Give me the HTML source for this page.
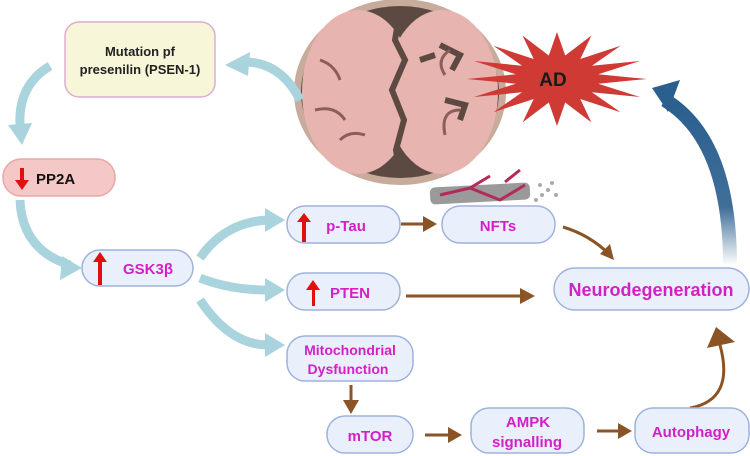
<!DOCTYPE html>
<html><head><meta charset="utf-8"><style>
body{margin:0;width:750px;height:456px;background:#fff;overflow:hidden;font-family:"Liberation Sans",sans-serif}
svg{display:block}
text{font-family:"Liberation Sans",sans-serif;font-weight:bold}
</style></head><body>
<svg width="750" height="456" viewBox="0 0 750 456" xmlns="http://www.w3.org/2000/svg">
<defs>
<linearGradient id="bg" x1="0" y1="1" x2="0" y2="0">
<stop offset="0" stop-color="#2a5f8e" stop-opacity="0"/>
<stop offset="0.35" stop-color="#2a5f8e" stop-opacity="0.9"/>
<stop offset="1" stop-color="#2a5f8e"/>
</linearGradient>
</defs>
<!-- brain -->
<ellipse cx="400" cy="92" rx="106" ry="93" fill="#c9ab9c"/>
<ellipse cx="400" cy="92" rx="99" ry="86" fill="#5c4a42"/>
<ellipse cx="358" cy="92" rx="56" ry="82" fill="#e8b4b0"/>
<ellipse cx="442" cy="92" rx="56" ry="82" fill="#e8b4b0"/>
<path d="M400 10 L395 40 L405 60 L392 90 L404 120 L396 150 L400 176" stroke="#5c4a42" stroke-width="6" fill="none"/>
<path d="M440 45 l20 10 l-8 15 M445 100 l20 5 l-5 15 M420 60 l15 -5" stroke="#5c4a42" stroke-width="6" fill="none"/>
<path d="M320 60 q15 5 20 20 M315 110 q20 -5 30 10 M450 50 q-15 10 -5 25 M460 110 q-20 0 -15 25 M340 140 q10 -10 25 -5" stroke="#8a5e5a" stroke-width="3" fill="none"/>
<!-- light blue arrows -->
<g fill="none" stroke="#a9d3dd" stroke-width="9">
<path d="M300 100 Q280 60 240 62"/>
<path d="M50 66 Q18 85 20 125"/>
<path d="M20 200 Q22 250 70 265"/>
<path d="M200 258 Q225 222 268 220"/>
<path d="M200 278 Q230 290 268 290"/>
<path d="M200 300 Q230 345 268 345"/>
</g>
<g fill="#a9d3dd">
<polygon points="225,65 250,52 248,76"/>
<polygon points="8,125 32,123 22,145"/>
<polygon points="82,268 62,256 60,280"/>
<polygon points="285,220 265,208 265,232"/>
<polygon points="285,290 265,278 265,302"/>
<polygon points="285,345 265,333 265,357"/>
</g>
<!-- star -->
<polygon id="star" fill="#d03a35"/>
<text x="553" y="86" font-size="19" fill="#1a1a1a" text-anchor="middle">AD</text>
<!-- blue arrow -->
<path d="M730 265 Q730 140 665 100" fill="none" stroke="url(#bg)" stroke-width="14"/>
<polygon points="652,88 680,80 668,112" fill="#2a5f8e"/>
<!-- NFT fibril -->
<rect x="430" y="185" width="100" height="17" rx="5" fill="#9a9a9a" transform="rotate(-3 480 193)"/>
<path d="M440 195 L470 188 L500 200 L525 185 M470 188 L490 176 M505 182 L520 170" stroke="#b42a5a" stroke-width="3" fill="none"/>
<g fill="#aaa"><circle cx="540" cy="185" r="2"/><circle cx="548" cy="190" r="2"/><circle cx="542" cy="195" r="2"/><circle cx="552" cy="183" r="2"/><circle cx="556" cy="195" r="2"/><circle cx="536" cy="200" r="2"/></g>
<!-- brown arrows -->
<g stroke="#8a5426" stroke-width="3" fill="none">
<path d="M401 224 L430 224"/>
<path d="M563 227 Q590 235 610 255"/>
<path d="M406 296 L520 296"/>
<path d="M351 385 L351 405"/>
<path d="M425 435 L455 435"/>
<path d="M597 431 L625 431"/>
<path d="M690 408 Q735 400 720 345"/>
</g>
<g fill="#8a5426">
<polygon points="437,224 423,216 423,232"/>
<polygon points="614,260 600,254 610,244"/>
<polygon points="535,296 520,288 520,304"/>
<polygon points="351,414 343,400 359,400"/>
<polygon points="462,435 448,427 448,443"/>
<polygon points="632,431 618,423 618,439"/>
<polygon points="716,327 707,348 735,342"/>
</g>
<!-- boxes -->
<rect x="65" y="22" width="150" height="75" rx="14" fill="#f8f6d8" stroke="#deaccf" stroke-width="1.5"/>
<text x="140" y="56" font-size="13" text-anchor="middle" fill="#222">Mutation pf</text>
<text x="140" y="74" font-size="13" text-anchor="middle" fill="#222">presenilin (PSEN-1)</text>
<rect x="3" y="159" width="112" height="37" rx="18" fill="#f5c8c8" stroke="#eba5a5" stroke-width="1.5"/>
<text x="36" y="184" font-size="15" fill="#111">PP2A</text>
<polygon points="20,168 20,180 15,180 22,190 29,180 24,180 24,168" fill="#e01010"/>
<g fill="#e9f0fb" stroke="#9fb2dc" stroke-width="1.5">
<rect x="82" y="250" width="111" height="36" rx="18"/>
<rect x="287" y="206" width="113" height="37" rx="18"/>
<rect x="442" y="206" width="113" height="37" rx="18"/>
<rect x="287" y="273" width="113" height="37" rx="18"/>
<rect x="287" y="336" width="126" height="45" rx="18"/>
<rect x="327" y="416" width="86" height="37" rx="18"/>
<rect x="471" y="408" width="113" height="45" rx="18"/>
<rect x="635" y="408" width="114" height="45" rx="18"/>
<rect x="554" y="268" width="195" height="42" rx="21"/>
</g>
<g fill="#e01010">
<polygon points="98,285 98,262 93,262 100,252 107,262 102,262 102,285"/>
<polygon points="302,242 302,222 297,222 304,213 311,222 306,222 306,242"/>
<polygon points="312,306 312,290 306,290 313,280 320,290 315,290 315,306"/>
</g>
<g fill="#d41fc8" text-anchor="middle">
<text x="148" y="274" font-size="15">GSK3β</text>
<text x="346" y="231" font-size="15">p-Tau</text>
<text x="498" y="231" font-size="15">NFTs</text>
<text x="350" y="298" font-size="15">PTEN</text>
<text x="350" y="355" font-size="14">Mitochondrial</text>
<text x="348" y="374" font-size="14">Dysfunction</text>
<text x="370" y="441" font-size="15">mTOR</text>
<text x="528" y="427" font-size="15">AMPK</text>
<text x="527" y="447" font-size="15">signalling</text>
<text x="691" y="437" font-size="15">Autophagy</text>
<text x="651" y="296" font-size="18">Neurodegeneration</text>
</g>
</svg>
<script>
var cx=557,cy=79,n=16,p=[];
for(var i=0;i<n*2;i++){var a=Math.PI*i/n-Math.PI/2;var o=i%2==0;var rx=o?90:42,ry=o?47:24;p.push((cx+rx*Math.cos(a)).toFixed(1)+","+(cy+ry*Math.sin(a)).toFixed(1));}
document.getElementById('star').setAttribute('points',p.join(' '));
</script>
</body></html>
